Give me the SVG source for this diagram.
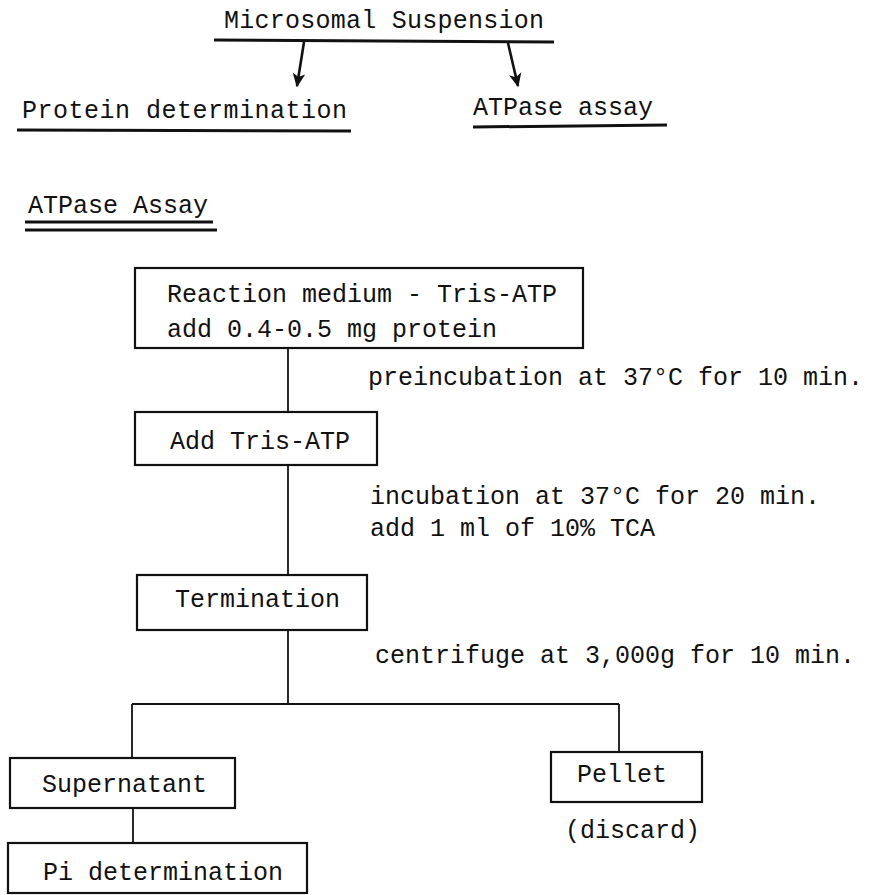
<svg xmlns="http://www.w3.org/2000/svg" width="873" height="895" viewBox="0 0 873 895">
<style>
text{font-family:"Courier New","Liberation Mono","DejaVu Sans Mono",monospace;font-size:25px;fill:#111}
.box{fill:none;stroke:#111;stroke-width:2.2}
.ln{fill:none;stroke:#111;stroke-width:1.8}
.ul{fill:none;stroke:#111;stroke-width:3}
.ar{fill:none;stroke:#111;stroke-width:2.6}
</style>
<defs>
<marker id="ah" viewBox="0 0 10 10" refX="9" refY="5" markerWidth="14" markerHeight="14" orient="auto" markerUnits="userSpaceOnUse">
<path d="M0,0.5 L10,5 L0,9.5 L2.5,5 Z" fill="#111"/>
</marker>
</defs>
<rect width="873" height="895" fill="#fff"/>

<g id="microsomal">
<text x="224" y="28" textLength="320" lengthAdjust="spacing">Microsomal Suspension</text>
<path class="ul" d="M214,40 L554,42"/>
</g>
<g id="protein">
<text x="22" y="118" textLength="325" lengthAdjust="spacing">Protein determination</text>
<path class="ul" d="M17,130 L351,131"/>
</g>
<g id="atpase-assay-top">
<text x="473" y="115">ATPase assay</text>
<path class="ul" d="M473,127 L667,125"/>
</g>
<g id="atpase-assay-heading">
<text x="28" y="213">ATPase Assay</text>
<path class="ul" d="M25,222 L213,222"/>
<path class="ul" d="M25,230 L217,230"/>
</g>

<g id="reaction-medium">
<rect class="box" x="135" y="268" width="448" height="80"/>
<text x="167" y="302">Reaction medium - Tris-ATP</text>
<text x="167" y="337">add 0.4-0.5 mg protein</text>
</g>
<g id="add-tris-atp">
<rect class="box" x="135" y="412" width="242" height="53"/>
<text x="170" y="449">Add Tris-ATP</text>
</g>
<g id="termination">
<rect class="box" x="137" y="575" width="230" height="55"/>
<text x="175" y="607">Termination</text>
</g>
<g id="supernatant">
<rect class="box" x="10" y="758" width="225" height="50"/>
<text x="42" y="792">Supernatant</text>
</g>
<g id="pi-determination">
<rect class="box" x="8" y="843" width="299" height="50"/>
<text x="43" y="880">Pi determination</text>
</g>
<g id="pellet">
<rect class="box" x="551" y="752" width="151" height="50"/>
<text x="577" y="782">Pellet</text>
</g>
<g id="discard">
<text x="565" y="838">(discard)</text>
</g>

<g id="labels">
<text x="368" y="385">preincubation at 37°C for 10 min.</text>
<text x="370" y="504">incubation at 37°C for 20 min.</text>
<text x="370" y="536">add 1 ml of 10% TCA</text>
<text x="375" y="663">centrifuge at 3,000g for 10 min.</text>
</g>

<g id="connectors">
<path class="ar" d="M304,42 L297,86" marker-end="url(#ah)"/>
<path class="ar" d="M508,43 L518,86" marker-end="url(#ah)"/>
<path class="ln" d="M288,348 L288,412"/>
<path class="ln" d="M288,465 L288,575"/>
<path class="ln" d="M288,630 L288,704"/>
<path class="ln" d="M132,704 L619,704"/>
<path class="ln" d="M132,704 L132,758"/>
<path class="ln" d="M619,704 L619,752"/>
<path class="ln" d="M133,808 L133,843"/>
</g>
</svg>
